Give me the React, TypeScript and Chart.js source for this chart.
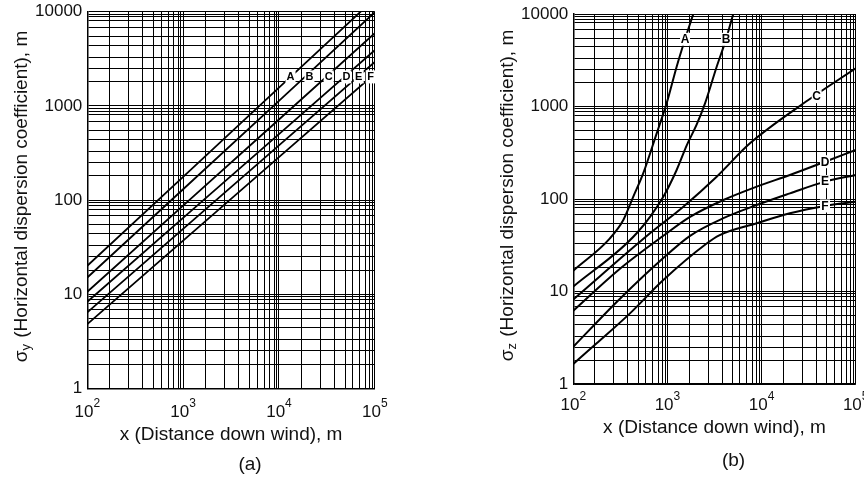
import React, { useEffect, useRef } from 'react';
import { Chart, registerables } from 'chart.js';

Chart.register(...registerables);

// ---------- axes ----------
const xDecades = [100, 1000, 10000, 100000];
const yDecades = [1, 10, 100, 1000, 10000];
// grid lines inside each decade, as drawn in the picture
const xGridMultipliers = [1.7, 2.7, 3.8, 4.9, 5.9, 7, 8, 8.9, 9.5];
const yGridMultipliers = [1.8, 2.5, 3.3, 4.4, 5.5, 6.8, 8, 8.8, 9.4];
const xTickExponents = [2, 3, 4, 5];
const yTickValues = [1, 10, 100, 1000, 10000];
const yTickLabels = ['1', '10', '100', '1000', '10000'];
const stabilityClasses = ['A', 'B', 'C', 'D', 'E', 'F'];

// ---------- panel (a): sigma y ----------
const distanceY = [100, 1000, 10000, 100000];
const sigmaY_A = [20, 176, 1560, 13800];
const sigmaY_B = [15, 130, 1130, 9900];
const sigmaY_C = [10.6, 87, 716, 5900];
const sigmaY_D = [8.3, 64.5, 501, 3900];
const sigmaY_E = [6.4, 49.3, 380, 2920];
const sigmaY_F = [4.8, 37, 285, 2190];
const labelY_x = [13200, 20800, 33000, 50500, 67900, 90600];
const labelY_y = [2030, 2030, 2030, 2030, 2030, 2030];

// ---------- panel (b): sigma z ----------
const sigmaZ_A_x = [100, 245, 340, 434, 554, 769, 981, 1253, 1538, 1884, 2300];
const sigmaZ_A = [16.8, 37.6, 59.3, 106, 190, 513, 1083, 2692, 5330, 10000, 18000];
const sigmaZ_B_x = [100, 471, 904, 1253, 1603, 2047, 2508, 3336, 4190, 5010, 6000];
const sigmaZ_B = [11.3, 42.6, 106, 206, 380, 640, 1083, 2692, 5320, 10000, 17000];
const sigmaZ_C_x = [100, 653, 1476, 3336, 7530, 31400, 100000];
const sigmaZ_C = [8.2, 42.6, 82.6, 174, 400, 1175, 2590];
const sigmaZ_D_x = [100, 300, 904, 1738, 3930, 8870, 20000, 47200, 100000];
const sigmaZ_D = [6.2, 17, 40, 64, 97.5, 136, 182, 253, 339];
const sigmaZ_E_x = [100, 300, 904, 1738, 3930, 8870, 20000, 47200, 100000];
const sigmaZ_E = [2.53, 8, 23, 40, 62, 86, 115, 154, 182];
const sigmaZ_F_x = [100, 177, 400, 904, 2610, 3550, 8870, 20000, 47200, 100000];
const sigmaZ_F = [1.65, 2.75, 5.8, 13.3, 33, 40.5, 54.6, 70, 84, 93.5];
const labelZ_x = [1538, 4190, 38500, 47200, 47200, 47200];
const labelZ_y = [5330, 5320, 1277, 253, 154, 84];

const FONT = '"Liberation Sans", Arial, Helvetica, sans-serif';
const INK = '#111';

interface Series { x: number[]; y: number[] }
interface PanelCfg {
  series: Series[];
  labelX: number[];
  labelY: number[];
  labelFont: number;
  sub: string;
  caption: string;
  smooth: boolean;
  lineWidth: number;
  padding: { left: number; right: number; top: number; bottom: number };
  xTickDy: number;
  xTitleDy: number;
  captionDy: number;
}

function gridValues(decades: number[], mult: number[]): number[] {
  const out: number[] = [];
  decades.forEach((d, i) => {
    out.push(d);
    if (i < decades.length - 1) mult.forEach((m) => out.push(d * m));
  });
  return out;
}

const panelA: PanelCfg = {
  series: [sigmaY_A, sigmaY_B, sigmaY_C, sigmaY_D, sigmaY_E, sigmaY_F].map((y) => ({ x: distanceY, y })),
  labelX: labelY_x,
  labelY: labelY_y,
  labelFont: 11,
  sub: 'y',
  caption: '(a)',
  smooth: false,
  lineWidth: 1.8,
  padding: { left: 87.3, right: 57.2, top: 11.7, bottom: 90.7 },
  xTickDy: 28.7,
  xTitleDy: 51.7,
  captionDy: 81.7,
};

const panelB: PanelCfg = {
  series: [
    { x: sigmaZ_A_x, y: sigmaZ_A },
    { x: sigmaZ_B_x, y: sigmaZ_B },
    { x: sigmaZ_C_x, y: sigmaZ_C },
    { x: sigmaZ_D_x, y: sigmaZ_D },
    { x: sigmaZ_E_x, y: sigmaZ_E },
    { x: sigmaZ_F_x, y: sigmaZ_F },
  ],
  labelX: labelZ_x,
  labelY: labelZ_y,
  labelFont: 12,
  sub: 'z',
  caption: '(b)',
  smooth: true,
  lineWidth: 2,
  padding: { left: 141.3, right: 8.3, top: 14, bottom: 95 },
  xTickDy: 26,
  xTitleDy: 49.3,
  captionDy: 82,
};

function makeTextPlugin(cfg: PanelCfg) {
  return {
    id: 'panelText',
    afterDatasetsDraw(chart: any) {
      const { ctx } = chart;
      const xs = chart.scales.x;
      const ys = chart.scales.y;
      ctx.save();
      ctx.font = `bold ${cfg.labelFont}px ${FONT}`;
      ctx.textAlign = 'center';
      ctx.textBaseline = 'middle';
      stabilityClasses.forEach((c, i) => {
        const px = xs.getPixelForValue(cfg.labelX[i]);
        const py = ys.getPixelForValue(cfg.labelY[i]);
        ctx.fillStyle = '#fff';
        ctx.fillRect(px - 5, py - 6.5, 10, 13);
        ctx.fillStyle = '#000';
        ctx.fillText(c, px, py + 0.5);
      });
      ctx.restore();
    },
    afterDraw(chart: any) {
      const { ctx, chartArea: a } = chart;
      const xs = chart.scales.x;
      const ys = chart.scales.y;
      ctx.save();
      ctx.fillStyle = INK;

      // y tick labels
      ctx.font = `17px ${FONT}`;
      ctx.textAlign = 'right';
      ctx.textBaseline = 'middle';
      yTickValues.forEach((v, i) => {
        ctx.fillText(yTickLabels[i], a.left - 5, ys.getPixelForValue(v));
      });

      // x tick labels 10^n
      ctx.textAlign = 'left';
      ctx.textBaseline = 'alphabetic';
      xTickExponents.forEach((e) => {
        const px = xs.getPixelForValue(Math.pow(10, e));
        ctx.font = `17px ${FONT}`;
        const wb = ctx.measureText('10').width;
        ctx.font = `12px ${FONT}`;
        const ws = ctx.measureText(String(e)).width;
        const x0 = px - (wb + ws) / 2;
        ctx.font = `17px ${FONT}`;
        ctx.fillText('10', x0, a.bottom + cfg.xTickDy);
        ctx.font = `12px ${FONT}`;
        ctx.fillText(String(e), x0 + wb, a.bottom + cfg.xTickDy - 10);
      });

      // x title
      ctx.font = `19px ${FONT}`;
      ctx.textAlign = 'center';
      ctx.fillText('x (Distance down wind), m', (a.left + a.right) / 2, a.bottom + cfg.xTitleDy);

      // caption
      ctx.fillText(cfg.caption, (a.left + a.right) / 2 + 19, a.bottom + cfg.captionDy);

      // y title (rotated, with subscript)
      const rest = ' (Horizontal dispersion coefficient), m';
      ctx.translate(a.left - 65.5, (a.top + a.bottom) / 2 - 3);
      ctx.rotate(-Math.PI / 2);
      ctx.textAlign = 'left';
      ctx.textBaseline = 'middle';
      ctx.font = `19px ${FONT}`;
      const w1 = ctx.measureText('σ').width;
      const w3 = ctx.measureText(rest).width;
      ctx.font = `13px ${FONT}`;
      const w2 = ctx.measureText(cfg.sub).width;
      const x0 = -(w1 + w2 + w3) / 2;
      ctx.font = `19px ${FONT}`;
      ctx.fillText('σ', x0, 0);
      ctx.font = `13px ${FONT}`;
      ctx.fillText(cfg.sub, x0 + w1, 5);
      ctx.font = `19px ${FONT}`;
      ctx.fillText(rest, x0 + w1 + w2 + 1, 0);
      ctx.restore();
    },
  };
}

function makeChart(canvas: HTMLCanvasElement, cfg: PanelCfg) {
  const xGrid = gridValues(xDecades, xGridMultipliers);
  const yGrid = gridValues(yDecades, yGridMultipliers);
  return new Chart(canvas, {
    type: 'line',
    data: {
      datasets: cfg.series.map((s, i) => ({
        label: stabilityClasses[i],
        data: s.x.map((x, j) => ({ x, y: s.y[j] })),
        borderColor: '#000',
        borderWidth: cfg.lineWidth,
        pointRadius: 0,
        fill: false,
        tension: 0,
        cubicInterpolationMode: cfg.smooth ? 'monotone' : 'default',
      })),
    },
    options: {
      animation: false,
      responsive: false,
      maintainAspectRatio: false,
      layout: { padding: cfg.padding },
      plugins: { legend: { display: false }, tooltip: { enabled: false } },
      scales: {
        x: {
          type: 'logarithmic',
          min: 100,
          max: 100000,
          afterBuildTicks: (scale: any) => {
            scale.ticks = xGrid.map((v) => ({ value: v }));
          },
          ticks: { display: false, autoSkip: false },
          grid: { color: '#000', lineWidth: 1, drawTicks: false },
          border: { display: true, color: '#000', width: 1.5, z: 1 },
        },
        y: {
          type: 'logarithmic',
          min: 1,
          max: 10000,
          afterBuildTicks: (scale: any) => {
            scale.ticks = yGrid.map((v) => ({ value: v }));
          },
          ticks: { display: false, autoSkip: false },
          grid: { color: '#000', lineWidth: 1, drawTicks: false },
          border: { display: true, color: '#000', width: 1.5, z: 1 },
        },
      },
    } as any,
    plugins: [makeTextPlugin(cfg)],
  });
}

export default function App() {
  const refA = useRef<HTMLCanvasElement>(null);
  const refB = useRef<HTMLCanvasElement>(null);
  useEffect(() => {
    const charts = [makeChart(refA.current!, panelA), makeChart(refB.current!, panelB)];
    return () => charts.forEach((c) => c.destroy());
  }, []);
  return (
    <div style={{ position: 'absolute', left: 0, top: 0, width: 864, height: 479, background: '#fff' }}>
      <canvas ref={refA} width={432} height={479} style={{ position: 'absolute', left: 0, top: 0, width: 432, height: 479 }} />
      <canvas ref={refB} width={432} height={479} style={{ position: 'absolute', left: 432, top: 0, width: 432, height: 479 }} />
    </div>
  );
}
